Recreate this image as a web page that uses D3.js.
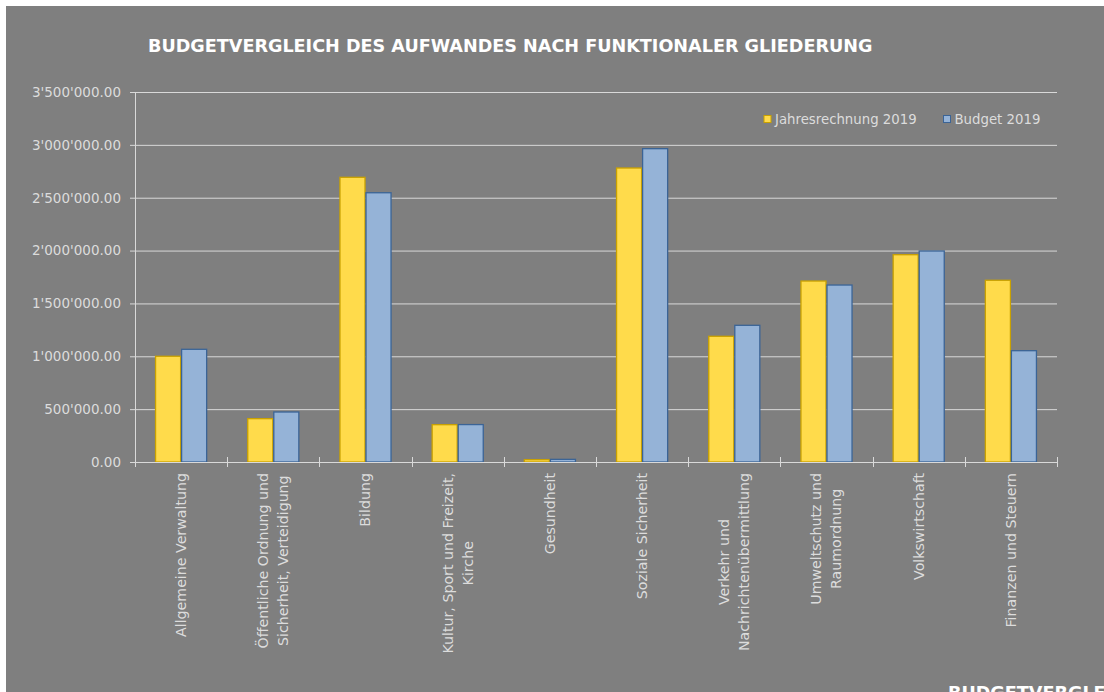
<!DOCTYPE html>
<html>
<head>
<meta charset="utf-8">
<script src="https://cdn.jsdelivr.net/npm/d3@7"></script>
<style>
  body { margin: 0; background: #fff; }
  svg { display: block; }
  text { font-family: "DejaVu Sans", sans-serif; }
</style>
</head>
<body>
<div id="chart"></div>
<script>
// Categories (line breaks as in the original wrapped labels)
var categories = [
  "Allgemeine Verwaltung",
  "Öffentliche Ordnung und\nSicherheit, Verteidigung",
  "Bildung",
  "Kultur, Sport und Freizeit,\nKirche",
  "Gesundheit",
  "Soziale Sicherheit",
  "Verkehr und\nNachrichtenübermittlung",
  "Umweltschutz und\nRaumordnung",
  "Volkswirtschaft",
  "Finanzen und Steuern"
];

// Series values
var jahresrechnung = [1000000, 410000, 2693000, 353000, 22000, 2781000, 1189000, 1712000, 1961000, 1719000];
var budget = [1066000, 473000, 2547000, 354000, 25000, 2964000, 1293000, 1674000, 1996000, 1053000];

var seriesNames = ["Jahresrechnung 2019", "Budget 2019"];
var yTicks = [0, 500000, 1000000, 1500000, 2000000, 2500000, 3000000, 3500000];

var title = "BUDGETVERGLEICH DES AUFWANDES NACH FUNKTIONALER GLIEDERUNG";

// SVG area
var svgWidth = 1104;
var svgHeight = 692;

var margin = { top: 92, right: 47, bottom: 230, left: 135 };
var chartWidth = svgWidth - margin.left - margin.right;
var chartHeight = svgHeight - margin.top - margin.bottom;

var fills = ["#ffdb4b", "#95b3d7"];
var strokes = ["#c9a100", "#3b6496"];
var lightText = "#dcdcdc";

var svg = d3.select("#chart")
  .append("svg")
  .attr("width", svgWidth)
  .attr("height", svgHeight);

// gray chart background
svg.append("rect")
  .attr("x", 6)
  .attr("y", 6)
  .attr("width", svgWidth - 6)
  .attr("height", svgHeight - 6)
  .attr("fill", "#7f7f7f");

// title
svg.append("text")
  .attr("x", 148)
  .attr("y", 52)
  .attr("fill", "#fff")
  .attr("font-weight", "bold")
  .attr("font-size", 17.6)
  .text(title);

// next chart's title, cut off at the bottom edge (as in the original)
svg.append("text")
  .attr("x", 948)
  .attr("y", 699)
  .attr("fill", "#fff")
  .attr("font-weight", "bold")
  .attr("font-size", 17.6)
  .text("BUDGETVERGLEICH");

var chartGroup = svg.append("g")
  .attr("transform", `translate(${margin.left}, ${margin.top})`);

// scales
var x0 = d3.scaleBand()
  .domain(categories)
  .range([0, chartWidth])
  .paddingInner(0)
  .paddingOuter(0);

var x1 = d3.scaleBand()
  .domain(seriesNames)
  .range([0, x0.bandwidth()])
  .paddingInner(0)
  .paddingOuter(0.77);

var yLinearScale = d3.scaleLinear()
  .domain([0, 3500000])
  .range([chartHeight, 0]);

var locale = d3.formatLocale({ decimal: ".", thousands: "'", grouping: [3], currency: ["", ""] });
var fmt = locale.format(",.2f");

// gridlines
chartGroup.append("g")
  .attr("class", "grid")
  .call(d3.axisLeft(yLinearScale).tickValues(yTicks).tickSize(-chartWidth).tickFormat(""))
  .call(g => g.select(".domain").remove())
  .call(g => g.selectAll("line").attr("stroke", "#d9d9d9").attr("stroke-width", 1));

// y axis
var yAxis = chartGroup.append("g")
  .call(d3.axisLeft(yLinearScale).tickValues(yTicks).tickFormat(fmt).tickSize(5).tickSizeOuter(0).tickPadding(9));
yAxis.select(".domain").attr("stroke", "#d9d9d9");
yAxis.selectAll("line").attr("stroke", "#d9d9d9");
yAxis.selectAll("text")
  .attr("fill", lightText)
  .attr("font-size", 13.5)
  .style("font-family", "DejaVu Sans");

// bars
var data = categories.map((c, i) => ({ cat: c, values: [jahresrechnung[i], budget[i]] }));

var groups = chartGroup.selectAll("g.cat")
  .data(data)
  .enter()
  .append("g")
  .attr("class", "cat")
  .attr("transform", d => `translate(${x0(d.cat)}, 0)`);

groups.selectAll("rect")
  .data(d => d.values.map((v, j) => ({ name: seriesNames[j], value: v, j: j })))
  .enter()
  .append("rect")
  .attr("x", d => x1(d.name) + 0.5)
  .attr("y", d => yLinearScale(d.value))
  .attr("width", x1.bandwidth() - 1)
  .attr("height", d => chartHeight - yLinearScale(d.value))
  .attr("fill", d => fills[d.j])
  .attr("stroke", d => strokes[d.j])
  .attr("stroke-width", 1.3);

// x axis line and boundary ticks
chartGroup.append("line")
  .attr("x1", -5)
  .attr("x2", chartWidth)
  .attr("y1", chartHeight + 0.5)
  .attr("y2", chartHeight + 0.5)
  .attr("stroke", "#d9d9d9");

var boundaries = categories.map(c => x0(c)).concat([chartWidth]);
chartGroup.selectAll("line.xtick")
  .data(boundaries)
  .enter()
  .append("line")
  .attr("class", "xtick")
  .attr("x1", d => Math.round(d) + 0.5)
  .attr("x2", d => Math.round(d) + 0.5)
  .attr("y1", chartHeight - 5)
  .attr("y2", chartHeight + 5)
  .attr("stroke", "#d9d9d9");

// category labels, rotated, wrapped lines centered on each other
var lineGap = 20;
var labelTop = 473 - margin.top;
var labels = chartGroup.selectAll("g.xlabel")
  .data(categories)
  .enter()
  .append("g")
  .attr("class", "xlabel");

labels.each(function(c) {
  var g = d3.select(this);
  var lines = c.split("\n");
  var texts = lines.map(function(line, i) {
    return g.append("text")
      .attr("fill", lightText)
      .attr("font-size", 14.2)
      .attr("text-anchor", "middle")
      .attr("dy", "0.35em")
      .attr("y", (i - (lines.length - 1) / 2) * lineGap)
      .text(line);
  });
  var w = d3.max(texts, t => t.node().getComputedTextLength());
  texts.forEach(t => t.attr("x", -w / 2));
  var cx = x0(c) + x0.bandwidth() / 2;
  g.attr("transform", `translate(${cx}, ${labelTop}) rotate(-90)`);
});

// legend
var legend = svg.append("g");
var legendX = [764, 943.5];
seriesNames.forEach(function(name, i) {
  legend.append("rect")
    .attr("x", legendX[i])
    .attr("y", 115.5)
    .attr("width", 7)
    .attr("height", 7)
    .attr("fill", fills[i])
    .attr("stroke", strokes[i]);
  legend.append("text")
    .attr("x", legendX[i] + 11)
    .attr("y", 123.5)
    .attr("fill", lightText)
    .attr("font-size", 13.3)
    .text(name);
});
</script>
</body>
</html>
